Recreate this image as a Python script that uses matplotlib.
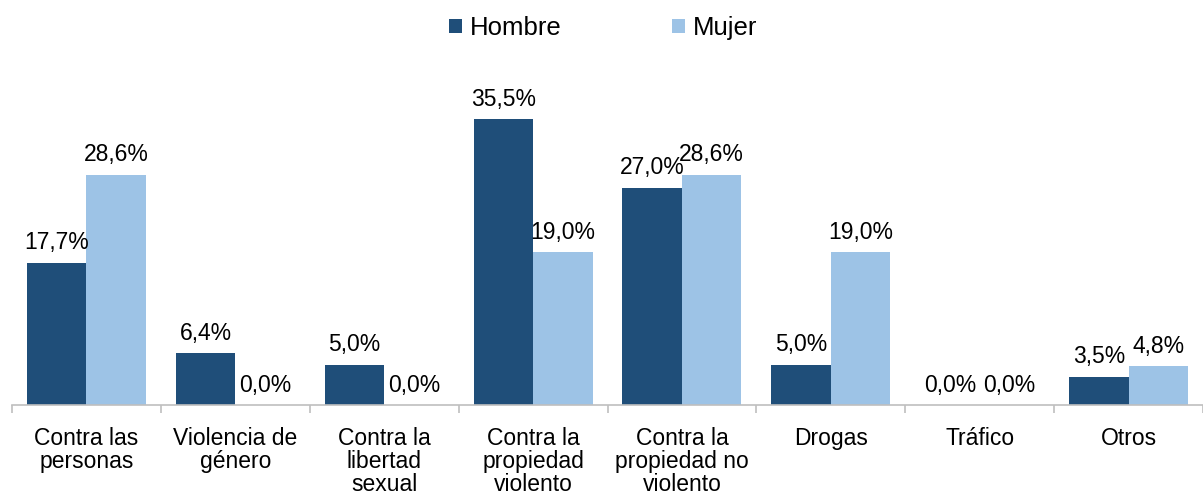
import numpy as np
import matplotlib.pyplot as plt

plt.rcParams['font.family'] = ['Liberation Sans', 'DejaVu Sans']

categorias = ['Contra las\npersonas', 'Violencia de\ngénero', 'Contra la\nlibertad\nsexual',
              'Contra la\npropiedad\nviolento', 'Contra la\npropiedad no\nviolento', 'Drogas',
              'Tráfico', 'Otros']
hombre = [17.7, 6.4, 5.0, 35.5, 27.0, 5.0, 0.0, 3.5]
mujer = [28.6, 0.0, 0.0, 19.0, 28.6, 19.0, 0.0, 4.8]

c_h = '#1F4E79'
c_m = '#9DC3E6'

fig = plt.figure(figsize=(12.03, 4.98), dpi=100)
ax = fig.add_axes([12/1203, 93/498, 1 - 12/1203, 322/498])

x = np.arange(len(categorias))
w = 0.4
b1 = ax.bar(x - w/2, hombre, w, color=c_h, label='Hombre')
b2 = ax.bar(x + w/2, mujer, w, color=c_m, label='Mujer')

def fmt(v):
    return f'{v:.1f}%'.replace('.', ',')

for bars, vals in [(b1, hombre), (b2, mujer)]:
    for r, v in zip(bars, vals):
        ax.annotate(fmt(v), (r.get_x() + r.get_width()/2, v), xytext=(0, 6),
                    textcoords='offset points', ha='center', va='bottom', fontsize=16.5)

ax.set_xlim(-0.5, len(categorias) - 0.5)
ax.set_ylim(0, 40)
ax.set_yticks([])
for s in ['top', 'right', 'left']:
    ax.spines[s].set_visible(False)
ax.spines['bottom'].set_color('#BFBFBF')
ax.spines['bottom'].set_linewidth(1.2)

ax.set_xticks(x)
ax.set_xticklabels(categorias, fontsize=16.5, linespacing=1.0)
ax.tick_params(axis='x', length=0, pad=16)
ax.set_xticks(np.arange(-0.5, len(categorias), 1), minor=True)
ax.tick_params(axis='x', which='minor', length=6, color='#BFBFBF', width=1.2)

fig.legend(handles=[b1, b2], loc='center', bbox_to_anchor=(603/1203, 1 - 28/498),
           ncol=2, frameon=False, fontsize=18.5, handlelength=0.5, handleheight=0.5,
           handletextpad=0.3, columnspacing=4.3)

fig.savefig('out.png', dpi=100)
